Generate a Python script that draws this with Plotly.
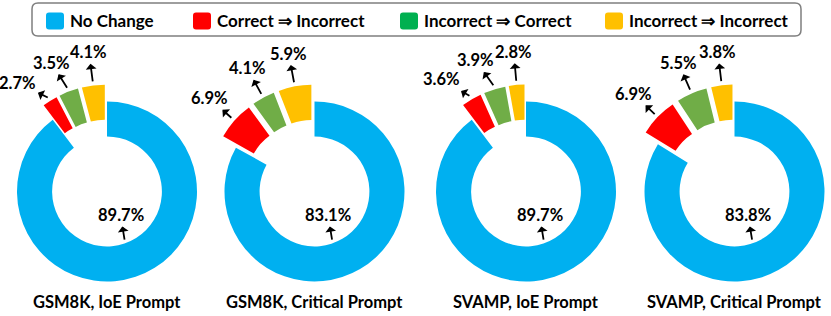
import math
import plotly.graph_objects as go

# ---------------- data ----------------
titles = ["GSM8K, IoE Prompt", "GSM8K, Critical Prompt", "SVAMP, IoE Prompt", "SVAMP, Critical Prompt"]
categories = ["No Change", "Correct ⇒ Incorrect", "Incorrect ⇒ Correct", "Incorrect ⇒ Incorrect"]
no_change = [89.7, 83.1, 89.7, 83.8]
correct_to_incorrect = [2.7, 6.9, 3.6, 6.9]
incorrect_to_correct = [3.5, 4.1, 3.9, 5.5]
incorrect_to_incorrect = [4.1, 5.9, 2.8, 3.8]

# ---------------- style / layout ----------------
slice_colors = ["#00B0F0", "#FF0000", "#70AD47", "#FFC000"]
legend_colors = ["#00B0F0", "#FF0000", "#00B050", "#FFC000"]
W, H = 831, 316
FONT = "Lato"
centers_x = [107, 314.5, 526, 734.5]
center_y = 191.5
R = 90.0
HOLE = 0.61
PULL = 17.0           # px explosion of the small slices
TAIL_R = 1.235 * R    # arrow tail radius (small slices)
TEXT_R = 1.56 * R     # label centre radius (small slices)
MIN_SEP = 16.0        # min angular spacing between small-slice labels
BLUE_TAIL = (160.0, 0.57 * R)
BLUE_TEXT = (150.0, 0.30 * R)
TRANSPARENT = "rgba(0,0,0,0)"
ARROW = dict(showarrow=True, arrowside="start", arrowhead=2, arrowsize=1,
             arrowwidth=1.8, arrowcolor="black")


def paper(x, y):
    return x / W, 1 - y / H


def polar(cx, cy, ang, r):
    a = math.radians(ang)
    return cx + r * math.sin(a), cy - r * math.cos(a)


def domain(cx, cy):
    return dict(x=[(cx - R) / W, (cx + R) / W], y=[1 - (cy + R) / H, 1 - (cy - R) / H])


fig = go.Figure()
annotations = []
shapes = []

for i, title in enumerate(titles):
    vals = [no_change[i], correct_to_incorrect[i], incorrect_to_correct[i], incorrect_to_incorrect[i]]
    cx, cy = centers_x[i], center_y
    total = sum(vals)
    # base ring: only "No Change" visible
    fig.add_trace(go.Pie(
        values=vals, labels=categories, sort=False, direction="clockwise", rotation=0,
        hole=HOLE, domain=domain(cx, cy), textinfo="none", hoverinfo="skip",
        marker=dict(colors=[slice_colors[0], TRANSPARENT, TRANSPARENT, TRANSPARENT],
                    line=dict(width=0)),
        showlegend=False,
    ))
    # mid angles
    cum = 0
    mids = []
    for v in vals:
        mids.append((cum + v / 2) / total * 360)
        cum += v
    # exploded slices
    for k in range(1, 4):
        a = math.radians(mids[k])
        sx, sy = cx + PULL * math.sin(a), cy - PULL * math.cos(a)
        cols = [TRANSPARENT] * 4
        cols[k] = slice_colors[k]
        fig.add_trace(go.Pie(
            values=vals, labels=categories, sort=False, direction="clockwise", rotation=0,
            hole=HOLE, domain=domain(sx, sy), textinfo="none", hoverinfo="skip",
            marker=dict(colors=cols, line=dict(width=0)), showlegend=False,
        ))
    # label angles for small slices (expressed as degrees left of 12 o'clock)
    left = {k: 360 - mids[k] for k in (1, 2, 3)}
    lab = {}
    lab[3] = left[3]
    lab[2] = max(left[2], lab[3] + MIN_SEP)
    lab[1] = max(left[1], lab[2] + MIN_SEP)
    for k in (1, 2, 3):
        tx, ty = polar(cx, cy, mids[k], TAIL_R)
        lx, ly = polar(cx, cy, 360 - lab[k], TEXT_R)
        px_, py_ = paper(tx, ty)
        annotations.append(dict(
            x=px_, y=py_, xref="paper", yref="paper", text=f"{vals[k]:.1f}%",
            ax=lx - tx, ay=ly - ty, **ARROW,
            font=dict(family=FONT, size=16.5, color="black", weight="bold"),
        ))
    # "No Change" label inside the hole
    tx, ty = polar(cx, cy, *BLUE_TAIL)
    lx, ly = polar(cx, cy, *BLUE_TEXT)
    px_, py_ = paper(tx, ty)
    annotations.append(dict(
        x=px_, y=py_, xref="paper", yref="paper", text=f"{vals[0]:.1f}%",
        ax=lx - tx, ay=ly - ty, **ARROW,
        font=dict(family=FONT, size=16.5, color="black", weight="bold"),
    ))
    # subplot title
    tx_, ty_ = paper(cx, 302)
    annotations.append(dict(
        x=tx_, y=ty_, xref="paper", yref="paper", text=title, showarrow=False,
        xanchor="center", yanchor="middle",
        font=dict(family=FONT, size=16.5, color="black", weight="bold"),
    ))


def rounded_rect(x0, y0, x1, y1, r):
    rx, ry = r / W, r / H
    X0, Y0 = paper(x0, y0)
    X1, Y1 = paper(x1, y1)  # Y0 top (bigger), Y1 bottom
    return (f"M{X0 + rx},{Y0} L{X1 - rx},{Y0} Q{X1},{Y0} {X1},{Y0 - ry} "
            f"L{X1},{Y1 + ry} Q{X1},{Y1} {X1 - rx},{Y1} L{X0 + rx},{Y1} "
            f"Q{X0},{Y1} {X0},{Y1 + ry} L{X0},{Y0 - ry} Q{X0},{Y0} {X0 + rx},{Y0} Z")


# legend frame
shapes.append(dict(type="path", xref="paper", yref="paper",
                   path=rounded_rect(32, 3, 801, 36, 6),
                   line=dict(color="#7F7F7F", width=1.5), fillcolor="white"))
legend_x = [46, 193, 400, 605]
for k, name in enumerate(categories):
    x0 = legend_x[k]
    shapes.append(dict(type="path", xref="paper", yref="paper",
                       path=rounded_rect(x0, 12.5, x0 + 18, 29.5, 3),
                       line=dict(width=0), fillcolor=legend_colors[k]))
    lx, ly = paper(x0 + 22, 20.5)
    annotations.append(dict(
        x=lx, y=ly, xref="paper", yref="paper", text=name, showarrow=False,
        xanchor="left", yanchor="middle",
        font=dict(family=FONT, size=17, color="black", weight="bold"),
    ))

fig.update_layout(
    width=W, height=H, margin=dict(l=0, r=0, t=0, b=0),
    paper_bgcolor="white", plot_bgcolor="white",
    showlegend=False, annotations=annotations, shapes=shapes,
)

fig.write_html(
    "out.html",
    config={"displayModeBar": False},
    post_script="document.body.style.margin='0';document.body.style.overflow='hidden';",
)
